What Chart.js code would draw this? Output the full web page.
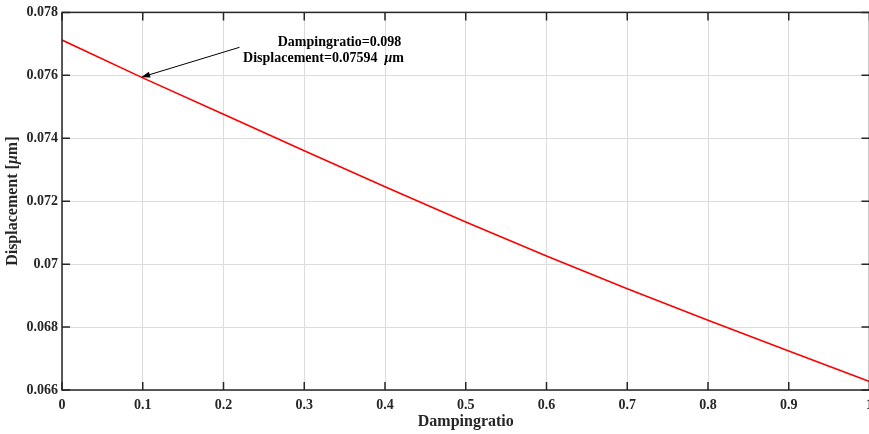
<!DOCTYPE html>
<html>
<head>
<meta charset="utf-8">
<title>Displacement vs damping ratio</title>
<script src="https://cdn.jsdelivr.net/npm/chart.js@4.4.1/dist/chart.umd.min.js"></script>
<style>
  html, body { margin: 0; padding: 0; background: #fff; overflow: hidden; }
  #wrap { position: relative; width: 880px; height: 434px; }
</style>
</head>
<body>
<div id="wrap"><canvas id="dispChart"></canvas></div>
<script>
/* ── Data ─────────────────────────────────────────────── */
var dampingRatio = [0, 0.1, 0.2, 0.3, 0.4, 0.5, 0.6, 0.7, 0.8, 0.9, 1.0];
var displacement = [0.07712, 0.07592, 0.07476, 0.07360, 0.07246, 0.07134,
                    0.07026, 0.06922, 0.06822, 0.06724, 0.06627];

var xTicks      = [0, 0.1, 0.2, 0.3, 0.4, 0.5, 0.6, 0.7, 0.8, 0.9, 1];
var xTickLabels = ['0','0.1','0.2','0.3','0.4','0.5','0.6','0.7','0.8','0.9','1'];
var yTicks      = [0.066, 0.068, 0.070, 0.072, 0.074, 0.076, 0.078];
var yTickLabels = ['0.066','0.068','0.07','0.072','0.074','0.076','0.078'];

/* marked point + where the arrow starts */
var markX = 0.098, markY = 0.07594;
var tailX = 0.2198, tailY = 0.07689;

var SERIF = '"Liberation Serif", "Times New Roman", serif';
var AXIS_COLOR = '#262626';

/* ── Box, inward ticks, y title, annotation ───────────── */
var matlabFrame = {
    id: 'matlabFrame',
    afterDraw: function (chart) {
        var c = chart.ctx, a = chart.chartArea;
        var sx = chart.scales.x, sy = chart.scales.y;
        var T = 8;
        c.save();

        // axes box
        c.strokeStyle = AXIS_COLOR;
        c.lineWidth = 1.5;
        c.strokeRect(a.left, a.top, a.right - a.left, a.bottom - a.top);

        // inward tick marks on all four sides
        c.beginPath();
        xTicks.forEach(function (v) {
            var px = sx.getPixelForValue(v);
            c.moveTo(px, a.bottom); c.lineTo(px, a.bottom - T);
            c.moveTo(px, a.top);    c.lineTo(px, a.top + T);
        });
        yTicks.forEach(function (v) {
            var py = sy.getPixelForValue(v);
            c.moveTo(a.left, py);  c.lineTo(a.left + T, py);
            c.moveTo(a.right, py); c.lineTo(a.right - T, py);
        });
        c.stroke();

        // y axis title with italic mu
        var up = 'bold 16px ' + SERIF, it = 'italic bold 16px ' + SERIF;
        var parts = [['Displacement [', up], ['\u03bc', it], ['m]', up]];
        var w = 0;
        parts.forEach(function (p) { c.font = p[1]; w += c.measureText(p[0]).width; });
        c.translate(13, (a.top + a.bottom) / 2);
        c.rotate(-Math.PI / 2);
        c.fillStyle = AXIS_COLOR;
        c.textBaseline = 'middle';
        c.textAlign = 'left';
        var x = -w / 2;
        parts.forEach(function (p) { c.font = p[1]; c.fillText(p[0], x, 0); x += c.measureText(p[0]).width; });
        c.setTransform(1, 0, 0, 1, 0, 0);
        c.restore();

        // text arrow
        c.save();
        var tipPx = sx.getPixelForValue(markX), tipPy = sy.getPixelForValue(markY);
        var tPx = sx.getPixelForValue(tailX), tPy = sy.getPixelForValue(tailY);
        var ang = Math.atan2(tipPy - tPy, tipPx - tPx);
        c.strokeStyle = '#000'; c.fillStyle = '#000'; c.lineWidth = 1;
        c.beginPath();
        c.moveTo(tPx, tPy);
        c.lineTo(tipPx - 6 * Math.cos(ang), tipPy - 6 * Math.sin(ang));
        c.stroke();
        c.beginPath();
        c.moveTo(tipPx, tipPy);
        c.lineTo(tipPx - 9 * Math.cos(ang) + 3 * Math.sin(ang), tipPy - 9 * Math.sin(ang) - 3 * Math.cos(ang));
        c.lineTo(tipPx - 9 * Math.cos(ang) - 3 * Math.sin(ang), tipPy - 9 * Math.sin(ang) + 3 * Math.cos(ang));
        c.closePath();
        c.fill();

        // annotation text
        var f = 'bold 14px ' + SERIF, fi = 'italic bold 14px ' + SERIF;
        c.fillStyle = '#000';
        c.textBaseline = 'alphabetic';
        c.textAlign = 'center';
        c.font = f;
        c.fillText('Dampingratio=' + markX, tPx + 100, tPy - 1);
        var l2 = [['Displacement=' + markY + '  ', f], ['\u03bc', fi], ['m', f]];
        var w2 = 0;
        l2.forEach(function (p) { c.font = p[1]; w2 += c.measureText(p[0]).width; });
        c.textAlign = 'left';
        var x2 = tPx + 84 - w2 / 2;
        l2.forEach(function (p) { c.font = p[1]; c.fillText(p[0], x2, tPy + 15); x2 += c.measureText(p[0]).width; });
        c.restore();
    }
};

/* ── Chart ────────────────────────────────────────────── */
var points = dampingRatio.map(function (x, i) { return { x: x, y: displacement[i] }; });

new Chart(document.getElementById('dispChart'), {
    type: 'line',
    data: { datasets: [{
        data: points,
        borderColor: '#ff0000',
        borderWidth: 1.6,
        pointRadius: 0,
        tension: 0,
        fill: false
    }]},
    options: {
        animation: false,
        responsive: true,
        maintainAspectRatio: false,
        layout: { padding: { top: 10, right: 8, left: 0, bottom: 0 } },
        plugins: { legend: { display: false }, tooltip: { enabled: false } },
        scales: {
            x: {
                type: 'linear', min: 0, max: 1,
                afterFit: function (s) { s.height = 44; },
                afterBuildTicks: function (s) { s.ticks = xTicks.map(function (v) { return { value: v }; }); },
                grid: { color: '#dcdcdc', lineWidth: 1, drawTicks: false },
                border: { display: false },
                ticks: {
                    padding: 7, maxRotation: 0, autoSkip: false,
                    color: AXIS_COLOR, font: { family: SERIF, size: 14, weight: 'bold' },
                    callback: function (v, i) { return xTickLabels[i]; }
                },
                title: {
                    display: true, text: 'Dampingratio', color: AXIS_COLOR,
                    font: { family: SERIF, size: 16, weight: 'bold' },
                    padding: { top: 0, bottom: 3 }
                }
            },
            y: {
                type: 'linear', min: 0.066, max: 0.078,
                afterFit: function (s) { s.width = 62; },
                afterBuildTicks: function (s) { s.ticks = yTicks.map(function (v) { return { value: v }; }); },
                grid: { color: '#dcdcdc', lineWidth: 1, drawTicks: false },
                border: { display: false },
                ticks: {
                    padding: 4, autoSkip: false,
                    color: AXIS_COLOR, font: { family: SERIF, size: 14, weight: 'bold' },
                    callback: function (v, i) { return yTickLabels[i]; }
                }
            }
        }
    },
    plugins: [matlabFrame]
});
</script>
</body>
</html>
